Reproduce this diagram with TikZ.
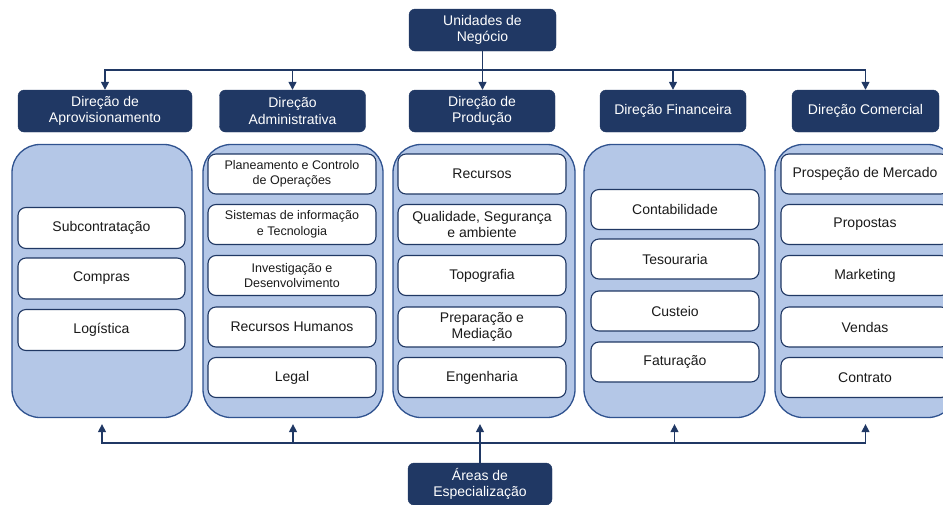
\documentclass[tikz,border=0pt]{standalone}
\usepackage{fontspec}
\setmainfont{Liberation Sans}
\usetikzlibrary{arrows.meta}

\definecolor{navy}{HTML}{203864}
\definecolor{panelfill}{HTML}{B4C7E7}
\definecolor{paneledge}{HTML}{2F528F}
\definecolor{ink}{HTML}{1A1A1A}

\tikzset{
  head/.style={fill=navy, draw=navy, rounded corners=6pt, text=white, align=center,
    font=\fontsize{14}{16.5}\selectfont, minimum height=42pt, inner sep=0pt},
  panel/.style={fill=panelfill, draw=paneledge, line width=1.3pt, rounded corners=28pt,
    minimum height=273pt, inner sep=0pt},
  item/.style={fill=white, draw=navy, line width=1.1pt, rounded corners=8pt,
    minimum width=168pt, minimum height=40pt, text=ink, align=center, inner sep=0pt,
    font=\fontsize{14}{16.5}\selectfont},
  smallitem/.style={item, font=\fontsize{12.5}{15.5}\selectfont},
  link/.style={draw=navy, line width=1.4pt},
  arr/.style={link, -{Triangle[length=8pt,width=8pt]}}
}

\begin{document}
\begin{tikzpicture}[x=1pt,y=-1pt]
\clip (0,0) rectangle (943,504);

% top and bottom boxes
\node[head, minimum width=147pt] (top) at (482.5,30) {Unidades de\\Negócio};
\node[head, minimum width=144pt] (foot) at (480,484) {Áreas de\\Especialização};

% directorate headers
\node[head, minimum width=174pt] (h1) at (105,111) {Direção de\\Aprovisionamento};
\node[head, minimum width=146pt] (h2) at (292.5,111) {Direção\\Administrativa};
\node[head, minimum width=146pt] (h3) at (482,111) {Direção de\\Produção};
\node[head, minimum width=146pt] (h4) at (673,111) {Direção Financeira};
\node[head, minimum width=147pt] (h5) at (865.5,111) {Direção Comercial};

% panels
\node[panel, minimum width=180pt] (p1) at (102,281) {};
\node[panel, minimum width=180pt] (p2) at (293,281) {};
\node[panel, minimum width=182pt] (p3) at (484,281) {};
\node[panel, minimum width=181pt] (p4) at (674.5,281) {};
\node[panel, minimum width=181pt] (p5) at (865.5,281) {};

% Aprovisionamento
\node[item, minimum width=167pt, minimum height=41pt] (a1) at (101.5,228) {Subcontratação};
\node[item, minimum width=167pt, minimum height=41pt] (a2) at (101.5,278.5) {Compras};
\node[item, minimum width=167pt, minimum height=41pt] (a3) at (101.5,330) {Logística};

% Administrativa
\node[smallitem] (b1) at (292,174) {Planeamento e Controlo\\de Operações};
\node[smallitem] (b2) at (292,224.5) {Sistemas de informação\\e Tecnologia};
\node[smallitem] (b3) at (292,275.5) {Investigação e\\Desenvolvimento};
\node[item] (b4) at (292,327) {Recursos Humanos};
\node[item] (b5) at (292,377.5) {Legal};

% Produção
\node[item] (c1) at (482,174) {Recursos};
\node[item] (c2) at (482,224.5) {Qualidade, Segurança\\e ambiente};
\node[item] (c3) at (482,275.5) {Topografia};
\node[item] (c4) at (482,327) {Preparação e\\Mediação};
\node[item] (c5) at (482,377.5) {Engenharia};

% Financeira
\node[item] (d1) at (675,209.5) {Contabilidade};
\node[item] (d2) at (675,259) {Tesouraria};
\node[item] (d3) at (675,311) {Custeio};
\node[item] (d4) at (675,362) {Faturação};

% Comercial
\node[item] (e1) at (865,174) {Prospeção de Mercado};
\node[item] (e2) at (865,224.5) {Propostas};
\node[item] (e3) at (865,275.5) {Marketing};
\node[item] (e4) at (865,327) {Vendas};
\node[item] (e5) at (865,377.5) {Contrato};

% distribution from the top
\coordinate (busT) at (482.5,70);
\draw[arr] (top.south) -- (top.south |- h3.north);
\draw[arr] (busT) -| (h1.north);
\draw[arr] (busT) -| (h2.north);
\draw[arr] (busT) -| (h4.north);
\draw[arr] (busT) -| (h5.north);

% collection from the bottom
\coordinate (busB) at (480,443);
\draw[arr, shorten >=6pt] (foot.north) -- (foot.north |- p3.south);
\draw[arr, shorten >=6pt] (busB) -| (p1.south);
\draw[arr, shorten >=6pt] (busB) -| (p2.south);
\draw[arr, shorten >=6pt] (busB) -| (p4.south);
\draw[arr, shorten >=6pt] (busB) -| (p5.south);
\end{tikzpicture}
\end{document}
